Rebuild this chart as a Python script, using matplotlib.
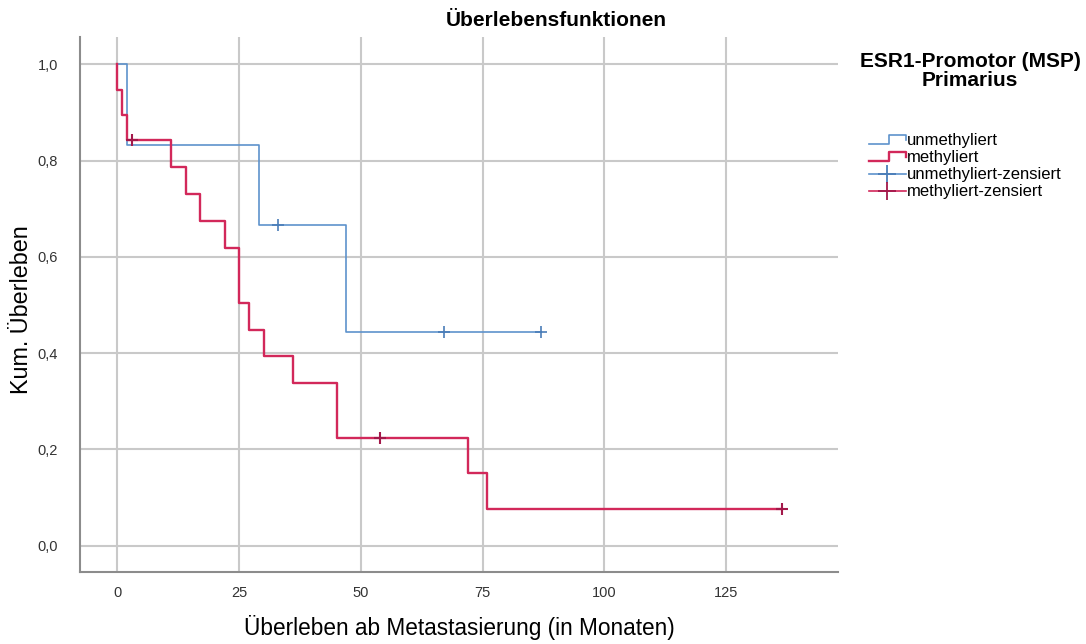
import matplotlib
matplotlib.use("Agg")
import matplotlib.pyplot as plt
from matplotlib.lines import Line2D
from matplotlib.legend_handler import HandlerBase

# Kaplan-Meier step data (time in months, cumulative survival after each step)
unmeth_event_times = [2, 29, 47]
unmeth_surv = [0.833, 0.667, 0.444]
unmeth_end = 87
unmeth_cens_times = [33, 67, 87]
unmeth_cens_surv = [0.667, 0.444, 0.444]

meth_event_times = [0, 1, 2, 11, 14, 17, 22, 25, 27, 30, 36, 45, 72, 76]
meth_surv = [0.947, 0.895, 0.842, 0.786, 0.730, 0.674, 0.618, 0.505,
             0.449, 0.393, 0.337, 0.224, 0.150, 0.075]
meth_end = 136.5
meth_cens_times = [3, 54, 136.5]
meth_cens_surv = [0.842, 0.224, 0.075]

x_ticks = [0, 25, 50, 75, 100, 125]
y_ticks = [0.0, 0.2, 0.4, 0.6, 0.8, 1.0]
y_tick_labels = ["0,0", "0,2", "0,4", "0,6", "0,8", "1,0"]
legend_labels = ["unmethyliert", "methyliert",
                 "unmethyliert-zensiert", "methyliert-zensiert"]

BLUE = "#5d92cc"
BLUE_DARK = "#4a7db8"
RED = "#d2285a"
RED_DARK = "#a3184a"
GRID = "#c9c9c9"

plt.rcParams["font.family"] = ["Liberation Sans", "DejaVu Sans"]

fig = plt.figure(figsize=(10.86, 6.44), dpi=100)
ax = fig.add_axes([80 / 1086, 1 - 572 / 644, (838 - 80) / 1086, (572 - 37) / 644])

ax.set_xlim(-7.7, 148)
ax.set_ylim(-0.055, 1.057)

ax.set_xticks(x_ticks)
ax.set_yticks(y_ticks)
ax.set_yticklabels(y_tick_labels)
ax.grid(True, color=GRID, linewidth=1.5)
ax.set_axisbelow(True)
ax.tick_params(length=0, labelsize=10.5, labelcolor="#333333")
ax.tick_params(axis="y", pad=16)
ax.tick_params(axis="x", pad=10)

for side in ("top", "right"):
    ax.spines[side].set_visible(False)
for side in ("left", "bottom"):
    ax.spines[side].set_color("#8c8c8c")
    ax.spines[side].set_linewidth(1.5)


def step_xy(times, surv, end):
    xs = [0] + list(times) + [end]
    ys = [1.0] + list(surv) + [surv[-1]]
    return xs, ys


ux, uy = step_xy(unmeth_event_times, unmeth_surv, unmeth_end)
mx, my = step_xy(meth_event_times, meth_surv, meth_end)

ax.step(ux, uy, where="post", color=BLUE, linewidth=1.2, zorder=3)
ax.step(mx, my, where="post", color=RED, linewidth=1.7, zorder=4)
ax.plot(unmeth_cens_times, unmeth_cens_surv, linestyle="none", marker="+",
        markersize=8, markeredgewidth=1.2, color=BLUE_DARK, zorder=5)
ax.plot(meth_cens_times, meth_cens_surv, linestyle="none", marker="+",
        markersize=8, markeredgewidth=1.5, color=RED_DARK, zorder=5)

ax.set_xlabel("Überleben ab Metastasierung (in Monaten)", fontsize=16.3, labelpad=11)
ax.set_ylabel("Kum. Überleben", fontsize=16.8, va="center")
ax.yaxis.set_label_coords(-0.077, 0.49)
fig.text(556 / 1086, 1 - 20 / 644, "Überlebensfunktionen", fontsize=15,
         fontweight="bold", ha="center", va="center")


class StepHandler(HandlerBase):
    def create_artists(self, legend, orig_handle, xdescent, ydescent,
                       width, height, fontsize, trans):
        x0, x1 = -xdescent, -xdescent + width
        xm = x0 + 0.55 * width
        lo = -ydescent + 0.1 * height
        hi = -ydescent + 0.85 * height
        line = Line2D([x0, xm, xm, x1, x1], [lo, lo, hi, hi, lo + 0.3 * height],
                      color=orig_handle.get_color(),
                      linewidth=orig_handle.get_linewidth(), transform=trans)
        return [line]


class CensorHandler(HandlerBase):
    def create_artists(self, legend, orig_handle, xdescent, ydescent,
                       width, height, fontsize, trans):
        x0, x1 = -xdescent, -xdescent + width
        yc = -ydescent + 0.45 * height
        line = Line2D([x0, x1], [yc, yc], color=orig_handle.get_color(),
                      linewidth=1.2, transform=trans)
        mark = Line2D([(x0 + x1) / 2], [yc], linestyle="none", marker="+",
                      markersize=13, markeredgewidth=1.3,
                      color=orig_handle.get_markeredgecolor(), transform=trans)
        return [line, mark]


h_unmeth = Line2D([], [], color=BLUE, linewidth=1.2)
h_meth = Line2D([], [], color=RED, linewidth=1.7)
h_unmeth_c = Line2D([], [], color=BLUE, markeredgecolor=BLUE_DARK)
h_meth_c = Line2D([], [], color=RED, markeredgecolor=RED_DARK)

leg = fig.legend(
    [h_unmeth, h_meth, h_unmeth_c, h_meth_c], legend_labels,
    handler_map={h_unmeth: StepHandler(), h_meth: StepHandler(),
                 h_unmeth_c: CensorHandler(), h_meth_c: CensorHandler()},
    loc="upper left", bbox_to_anchor=(869 / 1086, 1 - 133 / 644),
    frameon=False, fontsize=12, handlelength=2.2, handletextpad=0.1,
    labelspacing=0.12, borderaxespad=0, borderpad=0,
)
fig.text(970 / 1086, 1 - 71 / 644, "ESR1-Promotor (MSP)\nPrimarius",
         fontsize=15, fontweight="bold", ha="center", va="center",
         linespacing=0.95)

fig.savefig("out.png", dpi=100)
